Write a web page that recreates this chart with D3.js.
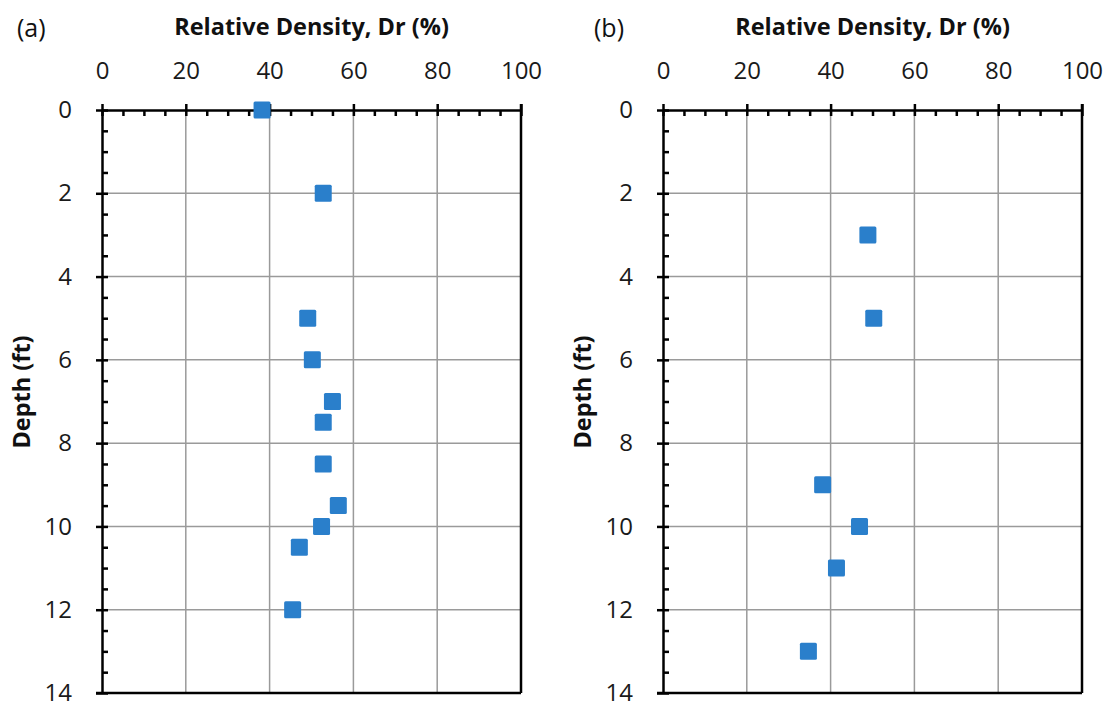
<!DOCTYPE html>
<html><head><meta charset="utf-8">
<script src="https://cdn.jsdelivr.net/npm/d3@7/dist/d3.min.js"></script>
<style>
body{margin:0;background:#fff;}
svg{display:block;}
text{font-family:"Open Sans",sans-serif;}
</style></head>
<body><svg id="c" width="1112" height="706"></svg>
<script>
// Data
const depthA = [0, 2, 5, 6, 7, 7.5, 8.5, 9.5, 10, 10.5, 12];
const drA    = [38.2, 52.8, 49.1, 50.2, 55.0, 52.8, 52.8, 56.4, 52.4, 47.1, 45.5];
const depthB = [3, 5, 9, 10, 11, 13];
const drB    = [48.9, 50.3, 38.1, 46.9, 41.4, 34.7];
const xTicks = [0, 20, 40, 60, 80, 100];
const yTicks = [0, 2, 4, 6, 8, 10, 12, 14];
const panelLabels = ["(a)", "(b)"];
const xTitle = "Relative Density, Dr (%)";
const yTitle = "Depth (ft)";

const svg = d3.select("#c");
const yTop = 110, yBottom = 693;
const panels = [
  {left: 102, right: 521, label: panelLabels[0], depth: depthA, dr: drA, labX: 17, yTitleX: 22},
  {left: 663, right: 1082, label: panelLabels[1], depth: depthB, dr: drB, labX: 594, yTitleX: 583}
];

panels.forEach(p => {
  const x = d3.scaleLinear().domain([0, 100]).range([p.left, p.right]);
  const y = d3.scaleLinear().domain([0, 14]).range([yTop, yBottom]);
  const g = svg.append("g");

  // gridlines
  g.append("g").selectAll("line").data(xTicks.slice(1, -1)).join("line")
    .attr("x1", d => x(d)).attr("x2", d => x(d)).attr("y1", yTop).attr("y2", yBottom)
    .attr("stroke", "#9a9a9a").attr("stroke-width", 1.5);
  g.append("g").selectAll("line").data(yTicks.slice(1, -1)).join("line")
    .attr("y1", d => y(d)).attr("y2", d => y(d)).attr("x1", p.left).attr("x2", p.right)
    .attr("stroke", "#9a9a9a").attr("stroke-width", 1.5);

  // right and bottom border
  g.append("line").attr("x1", p.right).attr("x2", p.right).attr("y1", yTop - 6).attr("y2", yBottom)
    .attr("stroke", "#000").attr("stroke-width", 2.5);
  g.append("line").attr("x1", p.left - 6).attr("x2", p.right).attr("y1", yBottom).attr("y2", yBottom)
    .attr("stroke", "#000").attr("stroke-width", 2.5);

  // minor ticks
  const xMinor = d3.range(0, 101, 5).filter(v => v % 20 !== 0);
  const yMinor = d3.range(0, 14.01, 0.5).filter(v => v % 2 !== 0);
  g.append("g").attr("transform", `translate(0,${yTop})`)
    .call(d3.axisTop(x).tickValues(xMinor).tickSize(-6).tickFormat(""))
    .call(a => a.select(".domain").remove())
    .selectAll(".tick line").attr("stroke", "#000").attr("stroke-width", 2.5);
  g.append("g").attr("transform", `translate(${p.left},0)`)
    .call(d3.axisLeft(y).tickValues(yMinor).tickSize(-6).tickFormat(""))
    .call(a => a.select(".domain").remove())
    .selectAll(".tick line").attr("stroke", "#000").attr("stroke-width", 2.5);

  // major x axis (top)
  const xa = g.append("g").attr("transform", `translate(0,${yTop})`)
    .call(d3.axisTop(x).tickValues(xTicks).tickSize(6).tickPadding(25).tickSizeOuter(0));
  xa.select(".domain").attr("stroke", "#000").attr("stroke-width", 2.5);
  xa.selectAll(".tick line").attr("y1", 6).attr("stroke", "#000").attr("stroke-width", 2.5);
  xa.selectAll(".tick text").attr("font-size", 24).attr("fill", "#1a1a1a")
    .attr("font-family", "'Open Sans', sans-serif");

  // major y axis (left)
  const ya = g.append("g").attr("transform", `translate(${p.left},0)`)
    .call(d3.axisLeft(y).tickValues(yTicks).tickSize(6).tickPadding(24).tickSizeOuter(0));
  ya.select(".domain").attr("stroke", "#000").attr("stroke-width", 2.5);
  ya.selectAll(".tick line").attr("x1", 6).attr("stroke", "#000").attr("stroke-width", 2.5);
  ya.selectAll(".tick text").attr("font-size", 24).attr("fill", "#1a1a1a")
    .attr("font-family", "'Open Sans', sans-serif");

  // markers
  const pts = p.depth.map((d, i) => ({d, v: p.dr[i]}));
  g.append("g").selectAll("rect").data(pts).join("rect")
    .attr("x", d => x(d.v) - 8.5).attr("y", d => y(d.d) - 8.5)
    .attr("width", 17).attr("height", 17).attr("rx", 1.5)
    .attr("fill", "#2a7fcb");

  // titles
  g.append("text").attr("x", (p.left + p.right) / 2).attr("y", 35)
    .attr("text-anchor", "middle").attr("font-size", 23.5).attr("font-weight", "bold")
    .attr("fill", "#111").text(xTitle);
  g.append("text").attr("x", p.labX).attr("y", 37)
    .attr("font-size", 25).attr("fill", "#111")
    .attr("font-family", "'Liberation Sans', Arial, sans-serif").text(p.label);
  g.append("text").attr("transform", `translate(${p.yTitleX},392) rotate(-90)`)
    .attr("text-anchor", "middle").attr("dy", "0.35em").attr("font-size", 23.5).attr("font-weight", "bold")
    .attr("fill", "#111").text(yTitle);
});
</script></body></html>
